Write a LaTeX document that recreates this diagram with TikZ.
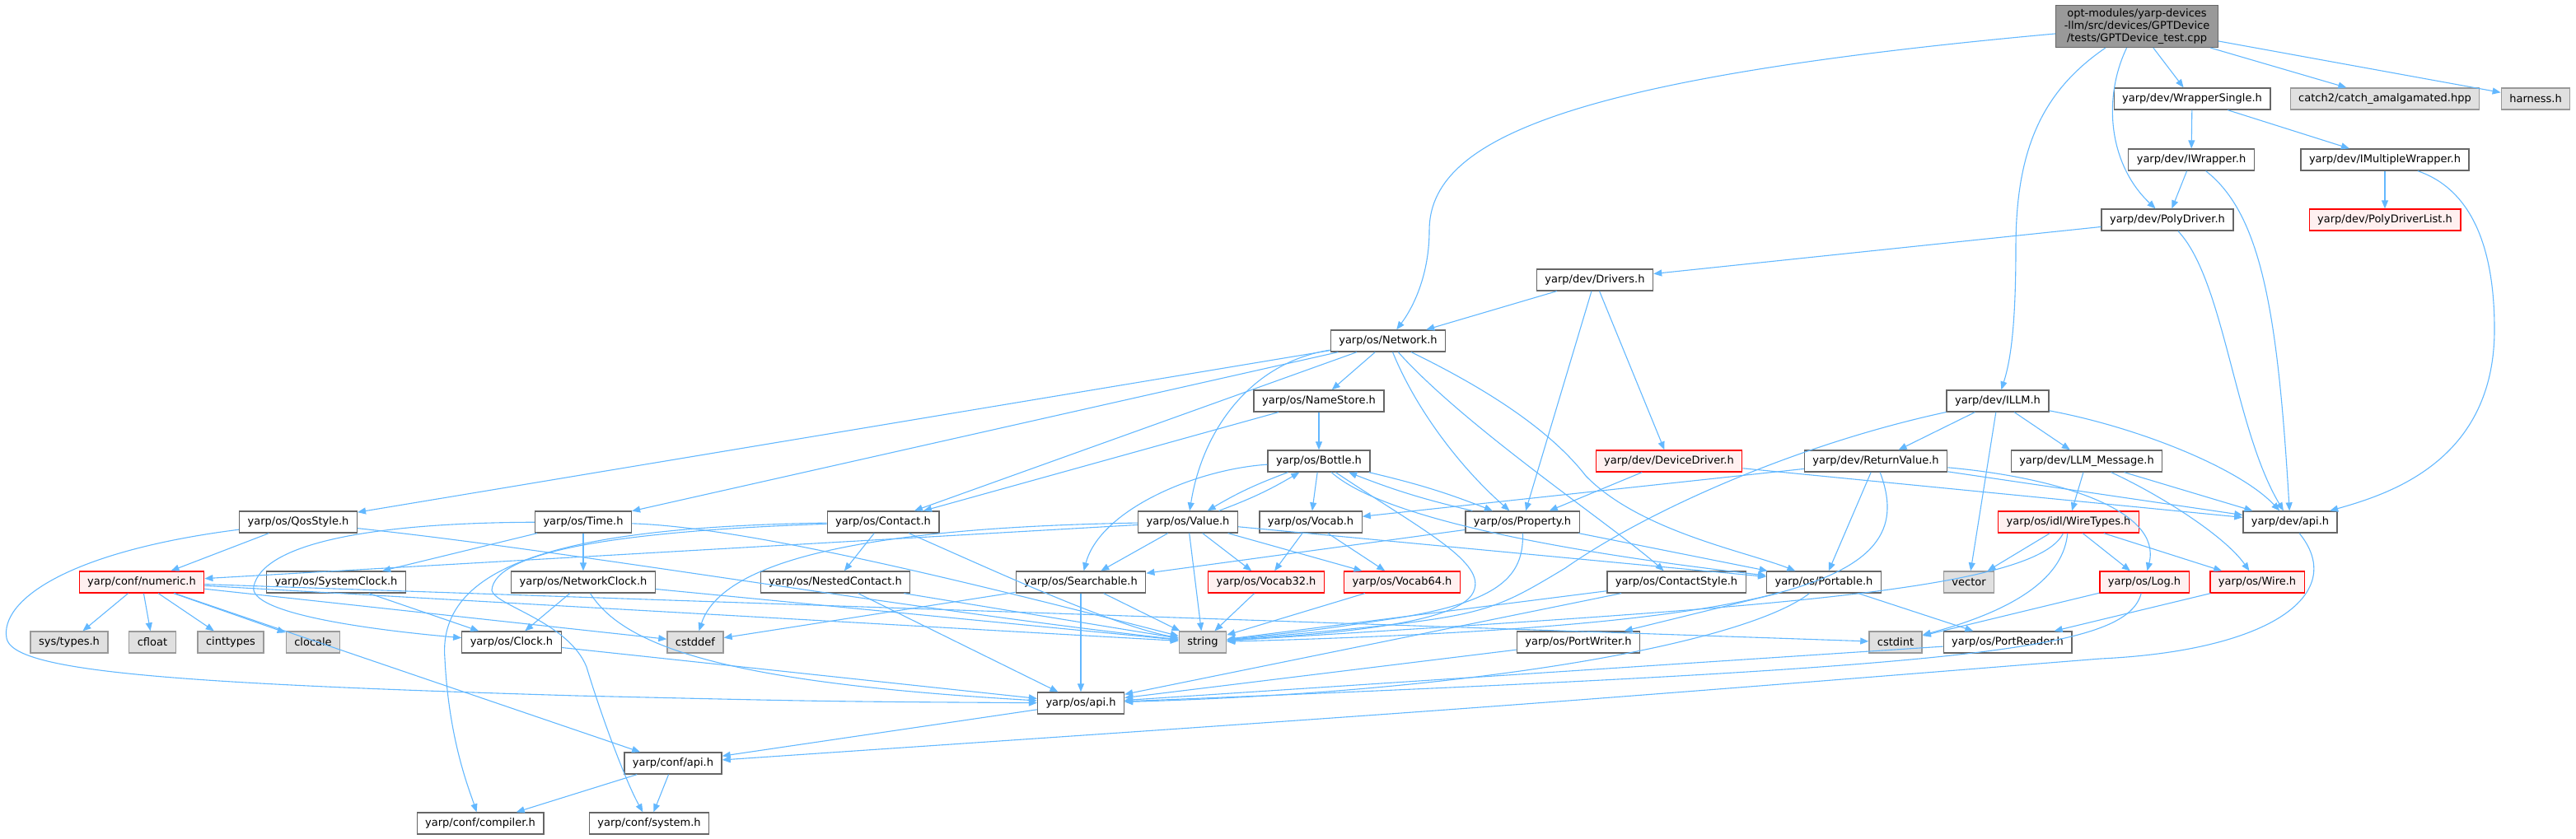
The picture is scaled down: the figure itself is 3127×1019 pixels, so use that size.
\documentclass[tikz,border=0pt]{standalone}
\usepackage{fontspec}
\setmainfont{DejaVu Sans}
\usetikzlibrary{arrows.meta}
\definecolor{edgeblue}{HTML}{63B8FF}
\definecolor{boxborder}{HTML}{666666}
\definecolor{extborder}{HTML}{999999}
\definecolor{extfill}{HTML}{E0E0E0}
\definecolor{truncfill}{HTML}{FFF0F0}
\definecolor{rootfill}{HTML}{999999}
\tikzset{
  box/.style={draw=boxborder, fill=white, line width=1.3pt, rectangle, inner xsep=10pt, inner ysep=0pt, minimum height=26pt, text=black},
  gbox/.style={box, draw=extborder, fill=extfill},
  rbox/.style={box, draw=red, fill=truncfill},
  rootbox/.style={box, fill=rootfill, align=center, inner ysep=4pt, font=\fontsize{13}{15}\selectfont},
  e/.style={draw=edgeblue, line width=1.1pt, -{Triangle[length=10pt,width=8pt]}}
}
\begin{document}
\begin{tikzpicture}[x=1pt,y=-1pt,font=\fontsize{13}{15.6}\selectfont]
\useasboundingbox (0,0) rectangle (3127,1019);
% nodes
\node[rootbox] (root) at (2594,32) {opt-modules/yarp-devices\\-llm/src/devices/GPTDevice\\/tests/GPTDevice\_test.cpp};
\node[box] (ws) at (2661,120) {yarp/dev/WrapperSingle.h};
\node[gbox] (catch) at (2895,120) {catch2/catch\_amalgamated.hpp};
\node[gbox] (harness) at (3078,120) {harness.h};
\node[box] (iw) at (2660,194) {yarp/dev/IWrapper.h};
\node[box] (imw) at (2895,194) {yarp/dev/IMultipleWrapper.h};
\node[box] (pd) at (2631,267) {yarp/dev/PolyDriver.h};
\node[rbox] (pdl) at (2895,267) {yarp/dev/PolyDriverList.h};
\node[box] (drv) at (1936,340) {yarp/dev/Drivers.h};
\node[box] (net) at (1685,414) {yarp/os/Network.h};
\node[box] (ns) at (1601,487) {yarp/os/NameStore.h};
\node[box] (illm) at (2425,487) {yarp/dev/ILLM.h};
\node[box] (bot) at (1601,560) {yarp/os/Bottle.h};
\node[rbox] (dd) at (2026,560) {yarp/dev/DeviceDriver.h};
\node[box] (rv) at (2277,560) {yarp/dev/ReturnValue.h};
\node[box] (llm) at (2533,560) {yarp/dev/LLM\_Message.h};
\node[box] (qos) at (362,634) {yarp/os/QosStyle.h};
\node[box] (time) at (708,634) {yarp/os/Time.h};
\node[box] (con) at (1072,634) {yarp/os/Contact.h};
\node[box] (val) at (1442,634) {yarp/os/Value.h};
\node[box] (voc) at (1591,634) {yarp/os/Vocab.h};
\node[box] (prop) at (1848,634) {yarp/os/Property.h};
\node[rbox] (wt) at (2511,634) {yarp/os/idl/WireTypes.h};
\node[box] (devapi) at (2780,634) {yarp/dev/api.h};
\node[rbox] (num) at (172,707) {yarp/conf/numeric.h};
\node[box] (sc) at (408,707) {yarp/os/SystemClock.h};
\node[box] (nc) at (708,707) {yarp/os/NetworkClock.h};
\node[box] (nest) at (1014,707) {yarp/os/NestedContact.h};
\node[box] (srch) at (1312,707) {yarp/os/Searchable.h};
\node[rbox] (v32) at (1537,707) {yarp/os/Vocab32.h};
\node[rbox] (v64) at (1702,707) {yarp/os/Vocab64.h};
\node[box] (cs) at (2035,707) {yarp/os/ContactStyle.h};
\node[box] (port) at (2214,707) {yarp/os/Portable.h};
\node[gbox] (vec) at (2390,707) {vector};
\node[rbox] (log) at (2603,707) {yarp/os/Log.h};
\node[rbox] (wire) at (2740,707) {yarp/os/Wire.h};
\node[gbox] (systypes) at (84,780) {sys/types.h};
\node[gbox] (cfloat) at (185,780) {cfloat};
\node[gbox] (cinttypes) at (280,780) {cinttypes};
\node[gbox] (clocale) at (380,780) {clocale};
\node[box] (clock) at (621,780) {yarp/os/Clock.h};
\node[gbox] (cstddef) at (844,780) {cstddef};
\node[gbox] (string) at (1460,780) {string};
\node[box] (pw) at (1916,780) {yarp/os/PortWriter.h};
\node[gbox] (cstdint) at (2301,780) {cstdint};
\node[box] (pr) at (2437,780) {yarp/os/PortReader.h};
\node[box] (osapi) at (1312,854) {yarp/os/api.h};
\node[box] (confapi) at (817,927) {yarp/conf/api.h};
\node[box] (comp) at (583,1000) {yarp/conf/compiler.h};
\node[box] (sys) at (788,1000) {yarp/conf/system.h};
% edges from root
\draw[e] (root) .. controls (1900,95) and (1735,170) .. (1735,280) .. controls (1735,330) and (1718,370) .. (net);
\draw[e] (root) .. controls (2480,110) and (2447,180) .. (2447,300) .. controls (2447,400) and (2440,440) .. (illm);
\draw[e] (root) .. controls (2552,120) and (2560,200) .. (pd);
\draw[e] (root) -- (ws);
\draw[e] (root) -- (catch);
\draw[e] (root) -- (harness);
% wrappers / drivers
\draw[e] (ws) -- (iw);
\draw[e] (ws) -- (imw);
\draw[e] (iw) -- (pd);
\draw[e] (iw) .. controls (2745,260) and (2765,380) .. (devapi);
\draw[e] (imw) -- (pdl);
\draw[e] (imw) .. controls (3000,230) and (3028,300) .. (3028,400) .. controls (3028,560) and (2900,600) .. (devapi);
\draw[e] (pd) -- (drv);
\draw[e] (pd) .. controls (2700,340) and (2712,520) .. (devapi);
\draw[e] (drv) -- (net);
\draw[e] (drv) -- (prop);
\draw[e] (drv) -- (dd);
\draw[e] (dd) -- (prop);
\draw[e] (dd) -- (devapi);
% Network
\draw[e] (net) -- (qos);
\draw[e] (net) -- (time);
\draw[e] (net) -- (con);
\draw[e] (net) .. controls (1520,440) and (1460,520) .. (val);
\draw[e] (net) -- (ns);
\draw[e] (net) .. controls (1720,500) and (1775,570) .. (prop);
\draw[e] (net) .. controls (1780,520) and (1960,640) .. (cs);
\draw[e] (net) .. controls (1800,470) and (1880,520) .. (1925,578) .. controls (1990,645) and (2120,670) .. (port);
% NameStore, Bottle
\draw[e] (ns) -- (con);
\draw[e] (ns) -- (bot);
\draw[e] (bot) to[bend right=5] (val);
\draw[e] (val) to[bend right=5] (bot);
\draw[e] (bot) -- (voc);
\draw[e] (bot) to[bend left=4] (prop);
\draw[e] (prop) to[bend left=4] (bot);
\draw[e] (bot) .. controls (1450,570) and (1335,620) .. (srch);
\draw[e] (bot) .. controls (1690,640) and (1980,680) .. (port);
\draw[e] (bot) .. controls (1720,640) and (1800,680) .. (1790,715) .. controls (1780,760) and (1600,770) .. (string);
% Property
\draw[e] (prop) -- (srch);
\draw[e] (prop) -- (port);
\draw[e] (prop) .. controls (1850,700) and (1820,730) .. (1700,750) .. controls (1600,765) .. (string);
% Value
\draw[e] (val) -- (srch);
\draw[e] (val) -- (v32);
\draw[e] (val) -- (v64);
\draw[e] (val) -- (string);
\draw[e] (val) -- (port);
\draw[e] (val) -- (num);
\draw[e] (val) .. controls (1100,640) and (880,670) .. (cstddef);
% Vocab
\draw[e] (voc) -- (v32);
\draw[e] (voc) -- (v64);
\draw[e] (v32) -- (string);
\draw[e] (v64) -- (string);
% Searchable
\draw[e] (srch) -- (string);
\draw[e] (srch) -- (osapi);
\draw[e] (srch) -- (cstddef);
% Contact
\draw[e] (con) -- (nest);
\draw[e] (con) .. controls (1200,690) and (1350,760) .. (string);
\draw[e] (con) .. controls (700,640) and (530,680) .. (540,800) .. controls (545,900) and (570,960) .. (comp);
\draw[e] (con) .. controls (750,645) and (600,670) .. (597,717) .. controls (600,735) and (690,755) .. (712,810) .. controls (730,870) and (760,950) .. (sys);
\draw[e] (nest) -- (string);
\draw[e] (nest) -- (osapi);
% QosStyle
\draw[e] (qos) -- (num);
\draw[e] (qos) .. controls (80,670) and (0,730) .. (8,775) .. controls (15,815) and (200,830) .. (700,845) .. controls (1000,852) .. (osapi);
\draw[e] (qos) .. controls (700,670) and (1100,740) .. (string);
% Time
\draw[e] (time) .. controls (900,640) and (1150,700) .. (string);
\draw[e] (time) -- (sc);
\draw[e] (time) -- (nc);
\draw[e] (time) .. controls (450,635) and (320,660) .. (308,712) .. controls (300,745) and (450,765) .. (clock);
\draw[e] (sc) -- (clock);
\draw[e] (nc) -- (clock);
\draw[e] (nc) -- (string);
\draw[e] (nc) .. controls (760,790) and (900,830) .. (osapi);
\draw[e] (clock) -- (osapi);
% numeric
\draw[e] (num) -- (systypes);
\draw[e] (num) -- (cfloat);
\draw[e] (num) -- (cinttypes);
\draw[e] (num) -- (clocale);
\draw[e] (num) -- (cstddef);
\draw[e] (num) -- (string);
\draw[e] (num) -- (cstdint);
\draw[e] (num) -- (confapi);
% ContactStyle, Portable
\draw[e] (cs) -- (osapi);
\draw[e] (cs) -- (string);
\draw[e] (port) -- (pw);
\draw[e] (port) -- (pr);
\draw[e] (port) .. controls (2120,780) and (1800,840) .. (osapi);
\draw[e] (pw) -- (osapi);
\draw[e] (pr) -- (osapi);
% ReturnValue
\draw[e] (rv) -- (voc);
\draw[e] (rv) -- (port);
\draw[e] (rv) .. controls (2330,700) and (2200,760) .. (string);
\draw[e] (rv) -- (devapi);
\draw[e] (rv) .. controls (2500,580) and (2625,620) .. (log);
% ILLM
\draw[e] (illm) -- (rv);
\draw[e] (illm) -- (llm);
\draw[e] (illm) -- (vec);
\draw[e] (illm) .. controls (2600,520) and (2720,570) .. (devapi);
\draw[e] (illm) .. controls (2180,540) and (2000,620) .. (1900,690) .. controls (1800,750) .. (string);
% LLM_Message
\draw[e] (llm) -- (wt);
\draw[e] (llm) -- (devapi);
\draw[e] (llm) .. controls (2620,600) and (2700,650) .. (wire);
% WireTypes
\draw[e] (wt) -- (vec);
\draw[e] (wt) -- (log);
\draw[e] (wt) -- (wire);
\draw[e] (wt) .. controls (2505,700) and (2450,740) .. (cstdint);
\draw[e] (wt) .. controls (2470,720) and (2100,740) .. (string);
% Log, Wire
\draw[e] (log) -- (cstdint);
\draw[e] (log) .. controls (2580,790) and (2400,810) .. (osapi);
\draw[e] (wire) -- (pr);
% api
\draw[e] (devapi) .. controls (2850,720) and (2760,790) .. (2550,800) .. controls (1800,860) .. (confapi);
\draw[e] (osapi) -- (confapi);
\draw[e] (confapi) -- (comp);
\draw[e] (confapi) -- (sys);
\end{tikzpicture}
\end{document}
